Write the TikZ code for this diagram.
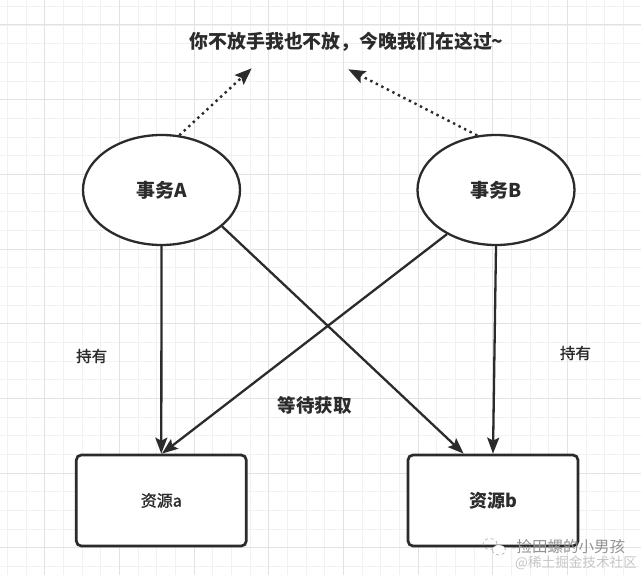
\documentclass[tikz,border=0pt]{standalone}
\usepackage{fontspec}
\setmainfont{Noto Sans CJK SC}
\newfontfamily\medfont{Noto Sans CJK SC}[FakeBold=1.3]
\usetikzlibrary{arrows.meta,shapes.geometric,calc}
\definecolor{ink}{HTML}{2B2B2B}
\definecolor{gridminor}{HTML}{F1F1F1}
\definecolor{gridmajor}{HTML}{E2E2E2}
\tikzset{
  gminor/.style={draw=gridminor,line width=0.8pt},
  gmajor/.style={draw=gridmajor,line width=1pt},
  txnode/.style={ellipse,draw=ink,line width=2.3pt,fill=white,minimum width=157pt,minimum height=110pt,inner sep=0pt,font=\fontsize{19}{22}\selectfont\bfseries,text=ink},
  resnode/.style={rectangle,rounded corners=5pt,draw=ink,line width=2.7pt,fill=white,minimum width=170pt,minimum height=91pt,inner sep=0pt,text=ink},
  conn/.style={draw=ink,line width=2.3pt,-{Stealth[length=16pt,width=12pt,inset=3pt]}},
  dotconn/.style={draw=ink,line width=2.4pt,dash pattern=on 2.4pt off 3.8pt,-{Stealth[length=17pt,width=13pt,inset=3pt]}},
  lbl/.style={text=ink,inner sep=0pt},
}
\begin{document}
\begin{tikzpicture}[x=1pt,y=-1pt]
\useasboundingbox (0,0) rectangle (641,575);
\fill[white] (0,0) rectangle (641,575);
% grid
\foreach \i in {0,...,34}{
  \pgfmathsetmacro\xx{7.33+18.667*\i}
  \draw[gminor] (\xx,0) -- (\xx,575);
}
\foreach \i in {0,...,30}{
  \pgfmathsetmacro\yy{6.33+18.667*\i}
  \draw[gminor] (0,\yy) -- (641,\yy);
}
\foreach \i in {0,...,8}{
  \pgfmathsetmacro\xx{44.67+74.667*\i}
  \draw[gmajor] (\xx,0) -- (\xx,575);
}
\foreach \i in {0,...,7}{
  \pgfmathsetmacro\yy{25+74.667*\i}
  \draw[gmajor] (0,\yy) -- (641,\yy);
}
% title
\node[lbl,font=\fontsize{18.9}{22}\selectfont\bfseries] (title) at (346.5,41.5) {你不放手我也不放，今晚我们在这过\textasciitilde};
% transactions
\node[txnode] (A) at (161.5,190) {事务A};
\node[txnode] (B) at (496,190) {事务B};
% resources
\node[resnode,font=\medfont\fontsize{16}{19}\selectfont] (ra) at (161.3,500.5) {资源a};
\node[resnode,font=\fontsize{18}{21}\selectfont\bfseries] (rb) at (493,500.5) {资源b};
% dotted arrow targets
\coordinate (tipA) at (251.7,68.3);
\coordinate (tipB) at (348.3,69.3);
\draw[dotconn] (A.72) -- (tipA);
\draw[dotconn] (B.109) -- (tipB);
% holding
\draw[conn] (A.south) -- (ra.north);
\draw[conn] (B.south) -- (rb.north);
% waiting
\draw[conn] (A.-31.7) -- ($(rb.north west)+(57,0)$);
\draw[conn] (B.222.6) -- ($(ra.north west)+(87,0)$);
% labels
\node[lbl,font=\medfont\fontsize{15.5}{18}\selectfont] (holdA) at (91.7,356) {持有};
\node[lbl,font=\medfont\fontsize{15.5}{18}\selectfont] (holdB) at (575.5,353) {持有};
\node[lbl,font=\fontsize{18.5}{21}\selectfont\bfseries] (wait) at (314.5,405.5) {等待获取};
% watermark
\node[draw=gray!70,line width=0.6pt,dashed,ellipse,minimum width=14pt,minimum height=11pt,inner sep=0pt] (wc1) at (490,544) {};
\node[draw=gray!70,line width=0.6pt,dashed,ellipse,minimum width=13pt,minimum height=10pt,inner sep=0pt,fill=white] (wc2) at (499,550) {};
\node[lbl,text=gray!85,font=\fontsize{15.5}{18}\selectfont,anchor=west] (wm1) at (511,546.5) {-捡田螺的小男孩};
\node[lbl,text=gray!45,font=\fontsize{13.6}{16}\selectfont,anchor=west] (wm2) at (515,562.5) {@稀土掘金技术社区};
\end{tikzpicture}
\end{document}
